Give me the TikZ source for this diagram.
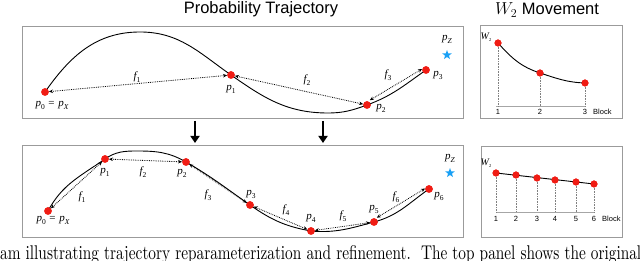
\documentclass[tikz,border=0pt]{standalone}
\usepackage{graphicx}
\usepackage{fontspec}
\setsansfont{Liberation Sans}
\newfontfamily\tms{Liberation Serif}
\usetikzlibrary{arrows.meta,shapes.geometric}
\definecolor{dotred}{RGB}{240,28,20}
\definecolor{starblue}{RGB}{25,160,245}
\definecolor{boxgray}{RGB}{155,155,155}
\newcommand{\vv}[2]{{\tms\itshape #1}\raisebox{-0.28em}{\tms\fontsize{7.5}{7.5}\selectfont #2}}
\newcommand{\vs}[2]{{\tms\itshape #1}\raisebox{-0.25em}{\tms\fontsize{4.5}{4.5}\selectfont #2}}
\begin{document}
\begin{tikzpicture}[x=1pt,y=1pt,
  pt/.style={circle,fill=dotred,inner sep=0pt,minimum size=7.5pt},
  spt/.style={circle,fill=dotred,inner sep=0pt,minimum size=7pt},
  traj/.style={line width=0.9pt},
  farrow/.style={densely dotted,line width=0.8pt,{Stealth[length=4pt,width=3.5pt]}-{Stealth[length=4pt,width=3.5pt]}},
  panel/.style={draw=boxgray,line width=0.8pt},
  lab/.style={font=\fontsize{11}{11}\selectfont,inner sep=0pt},
  tick/.style={font=\sffamily\fontsize{7.5}{7.5}\selectfont,inner sep=0pt},
  vline/.style={draw=gray,densely dotted,line width=0.6pt},
  axis/.style={draw=gray!70,line width=0.7pt},
  bigarrow/.style={line width=2.4pt,-{Triangle[width=9pt,length=7pt]}},
  zstar/.style={star,star points=5,star point ratio=2.4,fill=starblue,inner sep=0pt,minimum size=10pt},
  title/.style={font=\sffamily\fontsize{16.5}{18}\selectfont,inner sep=0pt}
]
\useasboundingbox (0,0) rectangle (640,261);
\clip (0,0) rectangle (640,261);

% titles
\node[title] (t1) at (261,252) {Probability Trajectory};
\node[title] (t2) at (547,251) {$W_2$ Movement};

% panels
\draw[panel] (22,235) rectangle (463,143);
\draw[panel] (480,236) rectangle (622,143);
\draw[panel] (22,116) rectangle (463,24);
\draw[panel] (481,115) rectangle (622,24);

% ---------- top trajectory ----------
\coordinate (tpk) at (140,229);
\coordinate (ttr) at (328,148);
\node[pt] (a0) at (45,169) {};
\node[pt] (a1) at (231,186) {};
\node[pt] (a2) at (367,156) {};
\node[pt] (a3) at (426,191) {};
\draw[traj] (a0.center) to[out=55,in=180] (tpk) to[out=0,in=145] (a1.center)
  to[out=-35,in=180] (ttr) to[out=0,in=200] (a2.center) to[out=20,in=215] (a3.center);
\node[pt] at (a0) {};\node[pt] at (a1) {};\node[pt] at (a2) {};\node[pt] at (a3) {};
\draw[farrow] (a0) -- (a1);
\draw[farrow] (a1) -- (a2);
\draw[farrow] ([yshift=2pt]a2.north east) -- ([yshift=1pt]a3.west);
\node[lab] (la0) at (52,156) {\vv{p}{0} {\tms=} \vv{p}{\itshape X}};
\node[lab] (la1) at (231,172) {\vv{p}{1}};
\node[lab] (la2) at (381,153) {\vv{p}{2}};
\node[lab] (la3) at (438,186) {\vv{p}{3}};
\node[lab] (lf1) at (137,184) {\vv{f}{1}};
\node[lab] (lf2) at (307,181) {\vv{f}{2}};
\node[lab] (lf3) at (388,186) {\vv{f}{3}};
\node[zstar] (sz1) at (447,206) {};
\node[lab] (lz1) at (447,222) {\vv{p}{\itshape Z}};

% arrows between panels
\coordinate (ar1s) at (195,140); \coordinate (ar1e) at (195,118);
\coordinate (ar2s) at (323,140); \coordinate (ar2e) at (323,118);
\draw[bigarrow] (ar1s) -- (ar1e);
\draw[bigarrow] (ar2s) -- (ar2e);

% ---------- bottom trajectory ----------
\coordinate (bpk) at (137,110);
\node[pt] (b0) at (48,50) {};
\node[pt] (b1) at (105,102) {};
\node[pt] (b2) at (186,99) {};
\node[pt] (b3) at (250,56) {};
\node[pt] (b4) at (311,30) {};
\node[pt] (b5) at (374,39) {};
\node[pt] (b6) at (429,72) {};
\draw[traj] (b0.center) to[out=62,in=215] (b1.center) to[out=35,in=180] (bpk)
  to[out=0,in=150] (b2.center) to[out=-30,in=145] (b3.center)
  to[out=-35,in=170] (b4.center) to[out=-5,in=195] (b5.center) to[out=15,in=215] (b6.center);
\foreach \n in {b0,b1,b2,b3,b4,b5,b6} {\node[pt] at (\n) {};}
\draw[farrow] (b0) -- (b1);
\draw[farrow] (b1) -- (b2);
\draw[farrow] (b2) -- (b3);
\draw[farrow] (b3) -- (b4);
\draw[farrow] (b4) -- (b5);
\draw[farrow] ([yshift=1.5pt]b5.north east) -- ([yshift=0.5pt]b6.west);
\node[lab] (lb0) at (53,41) {\vv{p}{0} {\tms=} \vv{p}{\itshape X}};
\node[lab] (lb1) at (105,89) {\vv{p}{1}};
\node[lab] (lb2) at (182,88) {\vv{p}{2}};
\node[lab] (lb3) at (251,67) {\vv{p}{3}};
\node[lab] (lb4) at (311,43) {\vv{p}{4}};
\node[lab] (lb5) at (374,52) {\vv{p}{5}};
\node[lab] (lb6) at (439,65) {\vv{p}{6}};
\node[lab] (lg1) at (82,64) {\vv{f}{1}};
\node[lab] (lg2) at (143,89) {\vv{f}{2}};
\node[lab] (lg3) at (208,66) {\vv{f}{3}};
\node[lab] (lg4) at (286,51) {\vv{f}{4}};
\node[lab] (lg5) at (343,45) {\vv{f}{5}};
\node[lab] (lg6) at (396,64) {\vv{f}{6}};
\node[zstar] (sz2) at (450,88) {};
\node[lab] (lz2) at (450,103) {\vv{p}{\itshape Z}};

% ---------- top-right chart ----------
\coordinate (ax1l) at (496,155); \coordinate (ax1r) at (586,155);
\draw[axis] (ax1l) -- (ax1r);
\node[spt] (c1) at (498,218) {};
\node[spt] (c2) at (540,188) {};
\node[spt] (c3) at (585,178) {};
\foreach \n/\t in {c1/1,c2/2,c3/3} {
  \coordinate (\n b) at (\n |- ax1l);
  \draw[vline] (\n) -- (\n b);
  \node[tick] at ([yshift=-6pt]\n b) {\t};
}
\draw[traj] (c1.center) to[out=-48,in=162] (c2.center) to[out=-18,in=178] (c3.center);
\foreach \n in {c1,c2,c3} {\node[spt] at (\n) {};}
\node[tick,anchor=west] (bk1) at (593,149) {Block};
\node[inner sep=0pt] (w1) at (486,224) {\vs{W}{2}};

% ---------- bottom-right chart ----------
\coordinate (ax2l) at (496,49); \coordinate (ax2r) at (595,49);
\draw[axis] (ax2l) -- (ax2r);
\node[spt] (d1) at (496,88) {};
\node[spt] (d2) at (516,86) {};
\node[spt] (d3) at (537,83) {};
\node[spt] (d4) at (555,81) {};
\node[spt] (d5) at (576,79) {};
\node[spt] (d6) at (594,77) {};
\foreach \n/\t in {d1/1,d2/2,d3/3,d4/4,d5/5,d6/6} {
  \coordinate (\n b) at (\n |- ax2l);
  \draw[vline] (\n) -- (\n b);
  \node[tick] at ([yshift=-7pt]\n b) {\t};
}
\draw[traj] (d1.center) -- (d6.center);
\foreach \n in {d1,d2,d3,d4,d5,d6} {\node[spt] at (\n) {};}
\node[tick,anchor=west] (bk2) at (602,42) {Block};
\node[inner sep=0pt] (w2) at (486,98) {\vs{W}{2}};

% caption fragment
\node[anchor=base west,inner sep=0pt] (cap) at (0,1) {\resizebox{641pt}{14pt}{am illustrating trajectory reparameterization and refinement.\ \ The top panel shows the original}};
\end{tikzpicture}
\end{document}
